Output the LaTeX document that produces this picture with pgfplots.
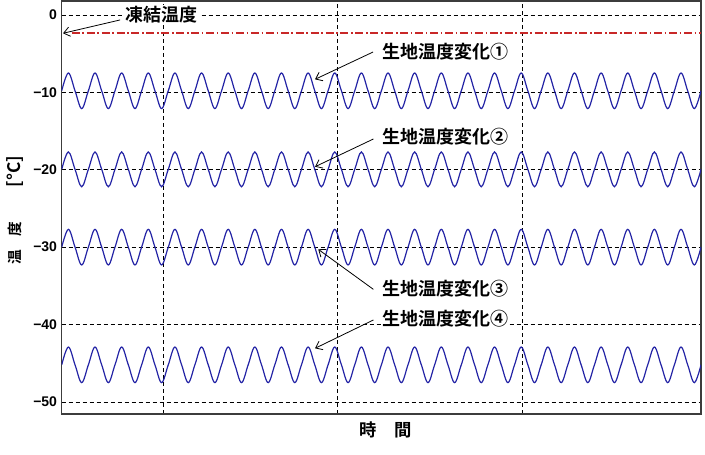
\documentclass[border=0pt]{standalone}
\usepackage{fontspec}
\setmainfont{Liberation Sans}
\newfontfamily\jp{Noto Sans CJK JP}[BoldFont={Noto Sans CJK JP Bold}]
\usepackage{pgfplots}
\pgfplotsset{compat=1.18}
\usepackage{pgfplotstable}
\usetikzlibrary{arrows.meta}

\definecolor{wavecol}{RGB}{35,35,165}
\definecolor{frzred}{RGB}{200,40,40}
\definecolor{framecol}{RGB}{60,60,60}

% fabric temperature, four cases, read at quarter periods
\pgfplotstableread[row sep=\\]{
t s1 s2 s3 s4\\
0 -9.8 -19.95 -30 -45.2\\ 0.25 -7.5 -17.7 -27.7 -42.9\\ 0.5 -9.8 -19.95 -30 -45.2\\ 0.75 -12.1 -22.2 -32.3 -47.5\\
1 -9.8 -19.95 -30 -45.2\\ 1.25 -7.5 -17.7 -27.7 -42.9\\ 1.5 -9.8 -19.95 -30 -45.2\\ 1.75 -12.1 -22.2 -32.3 -47.5\\
2 -9.8 -19.95 -30 -45.2\\ 2.25 -7.5 -17.7 -27.7 -42.9\\ 2.5 -9.8 -19.95 -30 -45.2\\ 2.75 -12.1 -22.2 -32.3 -47.5\\
3 -9.8 -19.95 -30 -45.2\\ 3.25 -7.5 -17.7 -27.7 -42.9\\ 3.5 -9.8 -19.95 -30 -45.2\\ 3.75 -12.1 -22.2 -32.3 -47.5\\
4 -9.8 -19.95 -30 -45.2\\ 4.25 -7.5 -17.7 -27.7 -42.9\\ 4.5 -9.8 -19.95 -30 -45.2\\ 4.75 -12.1 -22.2 -32.3 -47.5\\
5 -9.8 -19.95 -30 -45.2\\ 5.25 -7.5 -17.7 -27.7 -42.9\\ 5.5 -9.8 -19.95 -30 -45.2\\ 5.75 -12.1 -22.2 -32.3 -47.5\\
6 -9.8 -19.95 -30 -45.2\\ 6.25 -7.5 -17.7 -27.7 -42.9\\ 6.5 -9.8 -19.95 -30 -45.2\\ 6.75 -12.1 -22.2 -32.3 -47.5\\
7 -9.8 -19.95 -30 -45.2\\ 7.25 -7.5 -17.7 -27.7 -42.9\\ 7.5 -9.8 -19.95 -30 -45.2\\ 7.75 -12.1 -22.2 -32.3 -47.5\\
8 -9.8 -19.95 -30 -45.2\\ 8.25 -7.5 -17.7 -27.7 -42.9\\ 8.5 -9.8 -19.95 -30 -45.2\\ 8.75 -12.1 -22.2 -32.3 -47.5\\
9 -9.8 -19.95 -30 -45.2\\ 9.25 -7.5 -17.7 -27.7 -42.9\\ 9.5 -9.8 -19.95 -30 -45.2\\ 9.75 -12.1 -22.2 -32.3 -47.5\\
10 -9.8 -19.95 -30 -45.2\\ 10.25 -7.5 -17.7 -27.7 -42.9\\ 10.5 -9.8 -19.95 -30 -45.2\\ 10.75 -12.1 -22.2 -32.3 -47.5\\
11 -9.8 -19.95 -30 -45.2\\ 11.25 -7.5 -17.7 -27.7 -42.9\\ 11.5 -9.8 -19.95 -30 -45.2\\ 11.75 -12.1 -22.2 -32.3 -47.5\\
12 -9.8 -19.95 -30 -45.2\\ 12.25 -7.5 -17.7 -27.7 -42.9\\ 12.5 -9.8 -19.95 -30 -45.2\\ 12.75 -12.1 -22.2 -32.3 -47.5\\
13 -9.8 -19.95 -30 -45.2\\ 13.25 -7.5 -17.7 -27.7 -42.9\\ 13.5 -9.8 -19.95 -30 -45.2\\ 13.75 -12.1 -22.2 -32.3 -47.5\\
14 -9.8 -19.95 -30 -45.2\\ 14.25 -7.5 -17.7 -27.7 -42.9\\ 14.5 -9.8 -19.95 -30 -45.2\\ 14.75 -12.1 -22.2 -32.3 -47.5\\
15 -9.8 -19.95 -30 -45.2\\ 15.25 -7.5 -17.7 -27.7 -42.9\\ 15.5 -9.8 -19.95 -30 -45.2\\ 15.75 -12.1 -22.2 -32.3 -47.5\\
16 -9.8 -19.95 -30 -45.2\\ 16.25 -7.5 -17.7 -27.7 -42.9\\ 16.5 -9.8 -19.95 -30 -45.2\\ 16.75 -12.1 -22.2 -32.3 -47.5\\
17 -9.8 -19.95 -30 -45.2\\ 17.25 -7.5 -17.7 -27.7 -42.9\\ 17.5 -9.8 -19.95 -30 -45.2\\ 17.75 -12.1 -22.2 -32.3 -47.5\\
18 -9.8 -19.95 -30 -45.2\\ 18.25 -7.5 -17.7 -27.7 -42.9\\ 18.5 -9.8 -19.95 -30 -45.2\\ 18.75 -12.1 -22.2 -32.3 -47.5\\
19 -9.8 -19.95 -30 -45.2\\ 19.25 -7.5 -17.7 -27.7 -42.9\\ 19.5 -9.8 -19.95 -30 -45.2\\ 19.75 -12.1 -22.2 -32.3 -47.5\\
20 -9.8 -19.95 -30 -45.2\\ 20.25 -7.5 -17.7 -27.7 -42.9\\ 20.5 -9.8 -19.95 -30 -45.2\\ 20.75 -12.1 -22.2 -32.3 -47.5\\
21 -9.8 -19.95 -30 -45.2\\ 21.25 -7.5 -17.7 -27.7 -42.9\\ 21.5 -9.8 -19.95 -30 -45.2\\ 21.75 -12.1 -22.2 -32.3 -47.5\\
22 -9.8 -19.95 -30 -45.2\\ 22.25 -7.5 -17.7 -27.7 -42.9\\ 22.5 -9.8 -19.95 -30 -45.2\\ 22.75 -12.1 -22.2 -32.3 -47.5\\
23 -9.8 -19.95 -30 -45.2\\ 23.25 -7.5 -17.7 -27.7 -42.9\\ 23.5 -9.8 -19.95 -30 -45.2\\ 23.75 -12.1 -22.2 -32.3 -47.5\\
24 -9.8 -19.95 -30 -45.2\\
}\temps

% freezing temperature line
\pgfplotstableread[row sep=\\]{
t v\\
0.375 -2.35\\
24 -2.35\\
}\freezeline

\tikzset{
  note/.style={anchor=west, fill=white, inner sep=1pt, text=black,
    font=\fontsize{13.5}{15}\selectfont\jp\bfseries},
  pointer/.style={-{Straight Barb[length=4.5pt,width=7pt]}, line width=0.6pt, black},
}

\begin{document}
\begin{tikzpicture}
\begin{axis}[
  scale only axis,
  width=479.5pt, height=309.75pt,
  xmin=0, xmax=24, ymin=-51.55, ymax=1.8,
  xtick={3.8,10.35,17.3}, xticklabels={},
  ytick={-50,-40,-30,-20,-10,0},
  yticklabels={−50,−40,−30,−20,−10,0},
  grid=major,
  grid style={black, line width=0.6pt, dash pattern=on 3pt off 2.25pt},
  major tick length=0pt,
  axis line style={framecol, line width=1.1pt},
  yticklabel style={font=\fontsize{10.5}{12}\selectfont\bfseries},
  xlabel={\jp\bfseries 時\quad 間},
  xlabel style={at={(axis description cs:0.507,-0.039)}, anchor=center,
    font=\fontsize{13}{15}\selectfont},
  ylabel={\jp\bfseries 温\hspace{10pt}度\hspace{26pt}{\fontsize{13}{15}\selectfont[°C]}},
  ylabel style={at={(axis description cs:-0.073,0.494)}, anchor=center,
    font=\fontsize{11}{13}\selectfont},
]
\addplot[draw=frzred, line width=1pt, dash pattern=on 6pt off 2pt on 1.2pt off 2pt]
  table[x=t,y=v]{\freezeline};
\addplot[draw=wavecol, line width=0.9pt, smooth, tension=0.6] table[x=t,y=s1]{\temps};
\addplot[draw=wavecol, line width=0.9pt, smooth, tension=0.6] table[x=t,y=s2]{\temps};
\addplot[draw=wavecol, line width=0.9pt, smooth, tension=0.6] table[x=t,y=s3]{\temps};
\addplot[draw=wavecol, line width=0.9pt, smooth, tension=0.6] table[x=t,y=s4]{\temps};

\draw[pointer] (axis cs:2.19,-0.65) -- (axis cs:0.05,-2.37);
\node[note] at (axis cs:2.33,-0.01) {凍結温度};

\draw[pointer] (axis cs:11.69,-4.79) -- (axis cs:9.51,-8.32);
\node[note] at (axis cs:11.97,-4.75) {生地温度変化①};

\draw[pointer] (axis cs:11.70,-16.03) -- (axis cs:9.51,-19.61);
\node[note] at (axis cs:11.97,-15.73) {生地温度変化②};

\draw[pointer] (axis cs:11.70,-35.45) -- (axis cs:9.63,-30.28);
\node[note] at (axis cs:11.97,-35.32) {生地温度変化③};

\draw[pointer] (axis cs:11.70,-39.41) -- (axis cs:9.51,-43.07);
\node[note] at (axis cs:11.97,-39.19) {生地温度変化④};
\end{axis}
\pgfresetboundingbox
\path ([xshift=-46.3pt,yshift=-30.75pt]current axis.south west)
  rectangle ([xshift=3pt,yshift=0.75pt]current axis.north east);
\end{tikzpicture}
\end{document}
